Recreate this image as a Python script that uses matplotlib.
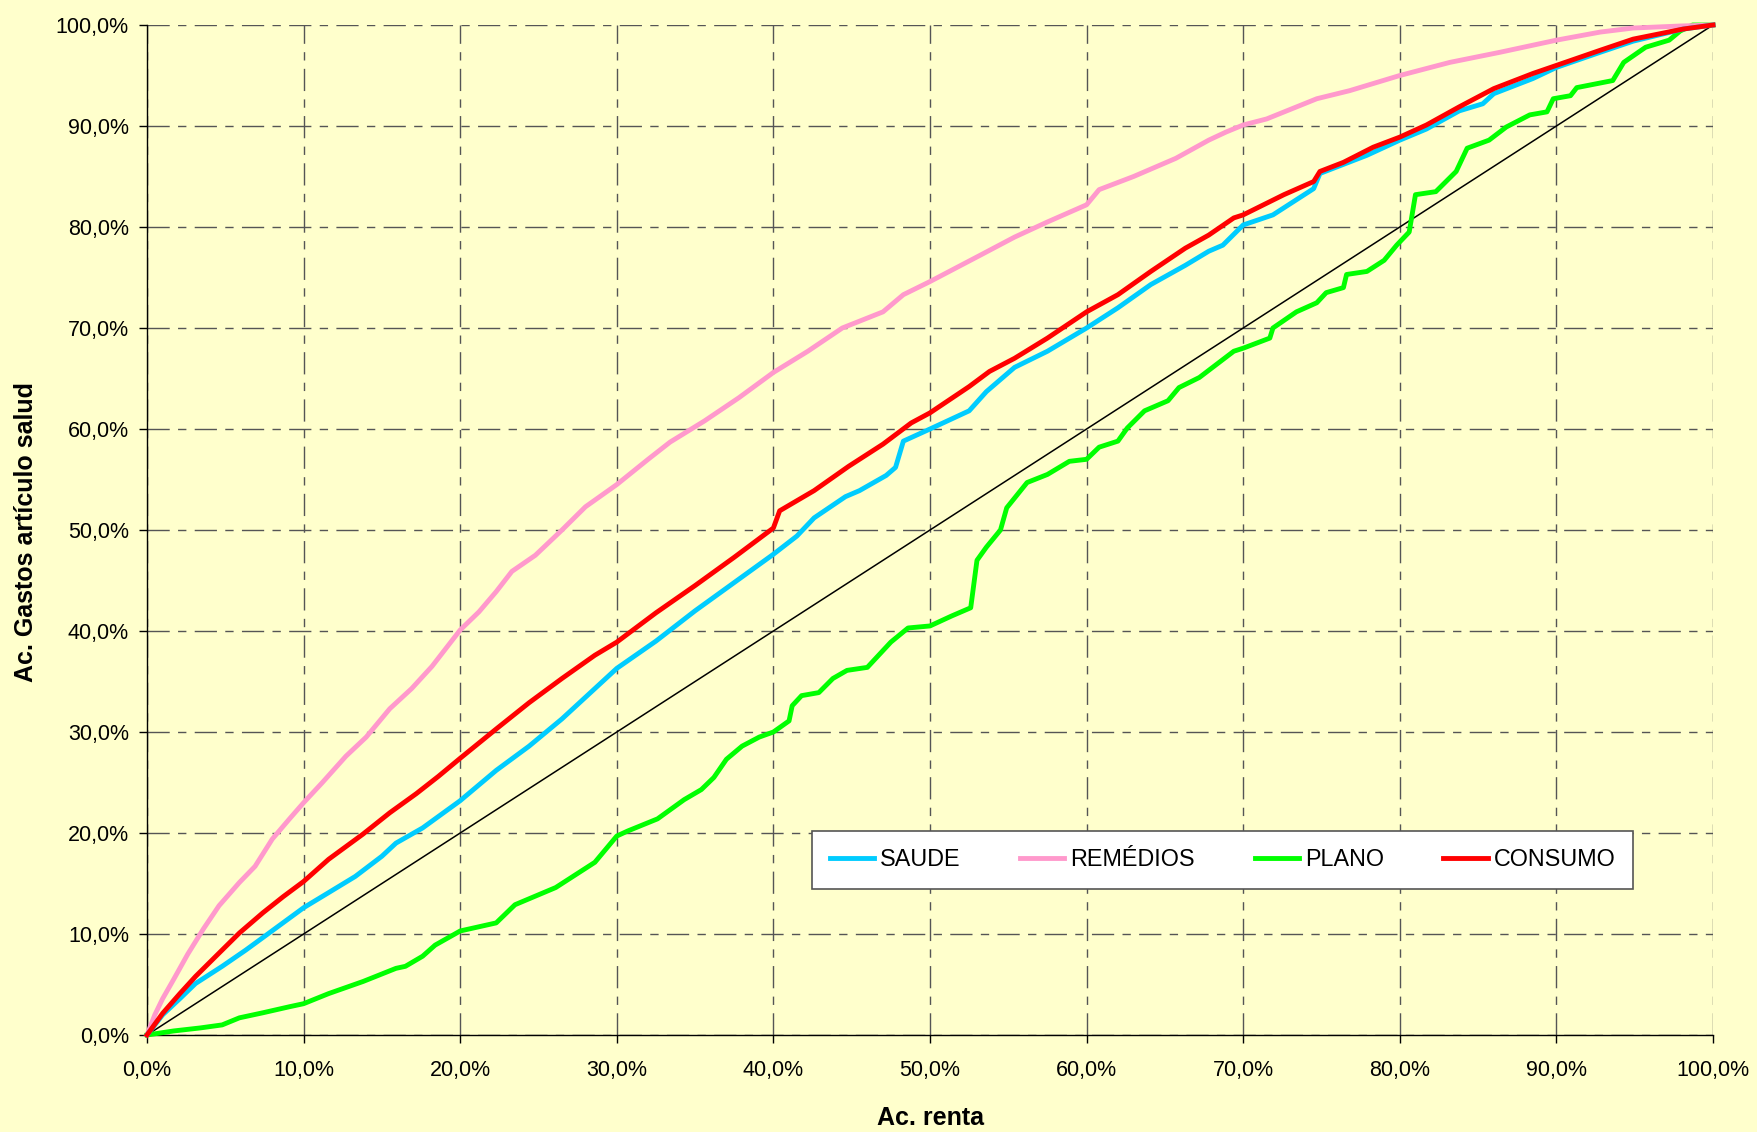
import matplotlib
matplotlib.use("Agg")
import matplotlib.pyplot as plt
from matplotlib.ticker import FuncFormatter

plt.rcParams['font.family'] = ['Liberation Sans', 'DejaVu Sans']

# ---------------- data (cumulative %) ----------------
remedios_x = [0, 0.5, 1.0, 1.7, 2.6, 3.6, 4.6, 5.9, 6.9, 8.0, 9.1, 10, 11.2, 12.7, 14, 15.5, 16.9,
              18.2, 19.1, 20, 21.2, 22.3, 23.3, 24.8, 26.5, 28, 30, 32, 33.4, 35.6, 37.8, 40, 42.2,
              44.4, 47, 48.3, 50, 53.2, 55.4, 57.5, 60, 60.8, 63, 65.7, 67.8, 68.9, 70, 71.5, 74.7,
              76.8, 80, 83.2, 86.4, 90, 92.8, 94.9, 97.9, 100]
remedios_y = [0, 2.0, 3.6, 5.5, 8.0, 10.5, 12.8, 15.1, 16.7, 19.4, 21.4, 23.0, 25.0, 27.6, 29.5, 32.3,
              34.3, 36.5, 38.3, 40.1, 41.9, 43.9, 45.9, 47.5, 50.0, 52.3, 54.5, 57.0, 58.7, 60.8, 63.1,
              65.6, 67.7, 70.0, 71.6, 73.3, 74.6, 77.2, 79.0, 80.5, 82.2, 83.7, 85.0, 86.8, 88.6, 89.4,
              90.1, 90.7, 92.7, 93.5, 95.0, 96.3, 97.3, 98.5, 99.3, 99.7, 99.9, 100]

consumo_x = [0, 1, 2.1, 3.1, 4.4, 5.9, 7.4, 8.7, 10, 11.6, 13.8, 15.5, 17.2, 18.6, 20, 22.3, 24.4,
             26.5, 28.6, 30, 32.5, 35, 37.5, 40, 40.4, 42.6, 44.8, 47, 48.8, 50, 52.5, 53.8, 55.4,
             57.5, 60, 62, 64.1, 66.3, 67.8, 69.4, 70, 72.6, 74.5, 74.9, 76.4, 78.3, 80, 81.7, 83.8,
             86, 88.5, 90, 92.8, 94.9, 98.1, 100]
consumo_y = [0, 2.15, 4.1, 5.8, 7.8, 10.1, 12.1, 13.7, 15.2, 17.4, 19.9, 22.0, 23.9, 25.6, 27.4, 30.3,
             32.9, 35.3, 37.6, 38.9, 41.8, 44.5, 47.3, 50.2, 51.9, 53.9, 56.3, 58.5, 60.6, 61.6, 64.2,
             65.7, 67.0, 69.0, 71.6, 73.3, 75.6, 77.9, 79.2, 80.9, 81.2, 83.2, 84.5, 85.5, 86.4, 87.9,
             88.9, 90.1, 91.9, 93.7, 95.2, 96.0, 97.5, 98.6, 99.6, 100]

saude_x = [0, 1, 2.1, 3.1, 4.8, 6.3, 7.8, 10, 11.6, 13.3, 15, 15.9, 17.6, 20, 22.3, 24.4, 26.5, 28.6,
           30, 32.5, 35, 37.5, 40, 41.5, 42.6, 44.6, 45.5, 47.2, 47.8, 48.3, 50, 52.5, 53.6, 55.4, 57.5,
           60, 62, 64.1, 66.3, 67.8, 68.7, 70, 71.9, 74.5, 74.9, 77.9, 80, 81.7, 83.8, 85.3, 86, 88.5,
           90, 92.8, 94.9, 98.1, 100]
saude_y = [0, 2.0, 3.6, 5.1, 6.8, 8.4, 10.1, 12.6, 14.1, 15.7, 17.7, 19.0, 20.5, 23.2, 26.2, 28.6, 31.3,
           34.3, 36.3, 39.0, 42.0, 44.8, 47.6, 49.4, 51.2, 53.3, 53.9, 55.4, 56.2, 58.8, 60.0, 61.8,
           63.7, 66.1, 67.7, 70.0, 72.0, 74.3, 76.2, 77.6, 78.2, 80.2, 81.2, 83.8, 85.3, 87.1, 88.6,
           89.7, 91.5, 92.2, 93.2, 94.7, 95.8, 97.3, 98.4, 99.6, 100]

plano_x = [0, 1.7, 3.4, 4.8, 5.9, 7.4, 9.1, 10, 11.6, 13.8, 15.9, 16.5, 17.6, 18.4, 20, 22.3, 23.5,
           26.1, 27.1, 28.6, 30, 30.7, 32.6, 34.3, 35.4, 36.2, 37, 38, 39.1, 40, 41, 41.2, 41.8, 42.9,
           43.8, 44.7, 46, 47.5, 48.6, 50, 51.4, 52.6, 53, 53.6, 54.5, 54.9, 56.2, 57.5, 58.9, 60,
           60.8, 62, 62.6, 63.7, 65.2, 65.9, 67.2, 68.3, 69.4, 70, 71.7, 71.9, 73.4, 74.7, 75.3, 76.4,
           76.6, 77.9, 79, 79.8, 80.6, 81, 82.3, 83.6, 84.3, 85.7, 86.8, 88.3, 89.4, 89.8, 90.9, 91.3,
           93.6, 94.3, 95.7, 97.2, 97.9, 98.7, 100]
plano_y = [0, 0.4, 0.7, 1.0, 1.7, 2.2, 2.8, 3.1, 4.1, 5.3, 6.6, 6.8, 7.8, 8.9, 10.3, 11.1, 12.9, 14.6,
           15.6, 17.1, 19.7, 20.2, 21.4, 23.3, 24.3, 25.5, 27.3, 28.6, 29.5, 30.0, 31.1, 32.6, 33.6,
           33.9, 35.3, 36.1, 36.4, 38.9, 40.3, 40.5, 41.5, 42.3, 47.0, 48.3, 50.0, 52.2, 54.7, 55.5,
           56.8, 57.0, 58.2, 58.8, 60.1, 61.8, 62.8, 64.1, 65.1, 66.4, 67.7, 68.0, 69.0, 70.0, 71.6,
           72.5, 73.5, 74.0, 75.3, 75.6, 76.7, 78.2, 79.5, 83.2, 83.5, 85.5, 87.8, 88.6, 89.9, 91.1,
           91.4, 92.7, 93.0, 93.8, 94.5, 96.3, 97.8, 98.5, 99.4, 100, 100]

equality_x = [0, 100]
equality_y = [0, 100]

series_names = ['SAUDE', 'REMÉDIOS', 'PLANO', 'CONSUMO']
tick_values = [0, 10, 20, 30, 40, 50, 60, 70, 80, 90, 100]
xlabel_text = 'Ac. renta'
ylabel_text = 'Ac. Gastos artículo salud'

# ---------------- figure ----------------
BG = '#FFFFCC'
fig = plt.figure(figsize=(17.57, 11.32), dpi=100, facecolor=BG)
ax = fig.add_axes([147 / 1757, 1 - 1035 / 1132, 1566 / 1757, 1010 / 1132])
ax.set_facecolor(BG)

lw = 3.5
ax.plot(equality_x, equality_y, color='black', lw=1.1, zorder=3, clip_on=False)
l_plano, = ax.plot(plano_x, plano_y, color='#00FF00', lw=lw, zorder=4, clip_on=False,
                   solid_joinstyle='round')
l_rem, = ax.plot(remedios_x, remedios_y, color='#FF99CC', lw=lw, zorder=4, clip_on=False,
                 solid_joinstyle='round')
l_saude, = ax.plot(saude_x, saude_y, color='#00CCFF', lw=lw, zorder=5, clip_on=False,
                   solid_joinstyle='round')
l_cons, = ax.plot(consumo_x, consumo_y, color='#FF0000', lw=lw, zorder=6, clip_on=False,
                  solid_joinstyle='round')

ax.set_xlim(0, 100)
ax.set_ylim(0, 100)
ax.set_xticks(tick_values)
ax.set_yticks(tick_values)
fmt = FuncFormatter(lambda v, p: f"{v:.1f}%".replace('.', ','))
ax.xaxis.set_major_formatter(fmt)
ax.yaxis.set_major_formatter(fmt)

ax.grid(True, color='#555555', lw=1.0, linestyle=(0, (16, 6, 6, 6)), zorder=1)
for s in ['top', 'right']:
    ax.spines[s].set_visible(False)
for s in ['left', 'bottom']:
    ax.spines[s].set_color('black')
    ax.spines[s].set_linewidth(1.0)
    ax.spines[s].set_zorder(2)

ax.tick_params(axis='both', direction='out', length=6, width=1, color='black',
               labelsize=15.5, labelcolor='black')
ax.tick_params(axis='x', pad=12)
ax.tick_params(axis='y', pad=7)

fig.text(930 / 1757, 1 - 1118 / 1132, xlabel_text, ha='center', va='center',
         fontsize=18, fontweight='bold')
fig.text(26 / 1757, 1 - 532 / 1132, ylabel_text, ha='center', va='center',
         rotation=90, fontsize=18, fontweight='bold')

leg = ax.legend([l_saude, l_rem, l_plano, l_cons], series_names, ncol=4,
                loc='upper left', bbox_to_anchor=(812 / 1757, 1 - 831 / 1132),
                bbox_transform=fig.transFigure, fontsize=16.8, frameon=True,
                fancybox=False, shadow=False, framealpha=1, facecolor='white',
                edgecolor='#555555', handlelength=1.9, handletextpad=0.26,
                columnspacing=2.55, borderpad=0.75, borderaxespad=0)
leg.get_frame().set_linewidth(1.2)
leg.set_zorder(10)

fig.savefig('out.png', dpi=100, facecolor=BG)
